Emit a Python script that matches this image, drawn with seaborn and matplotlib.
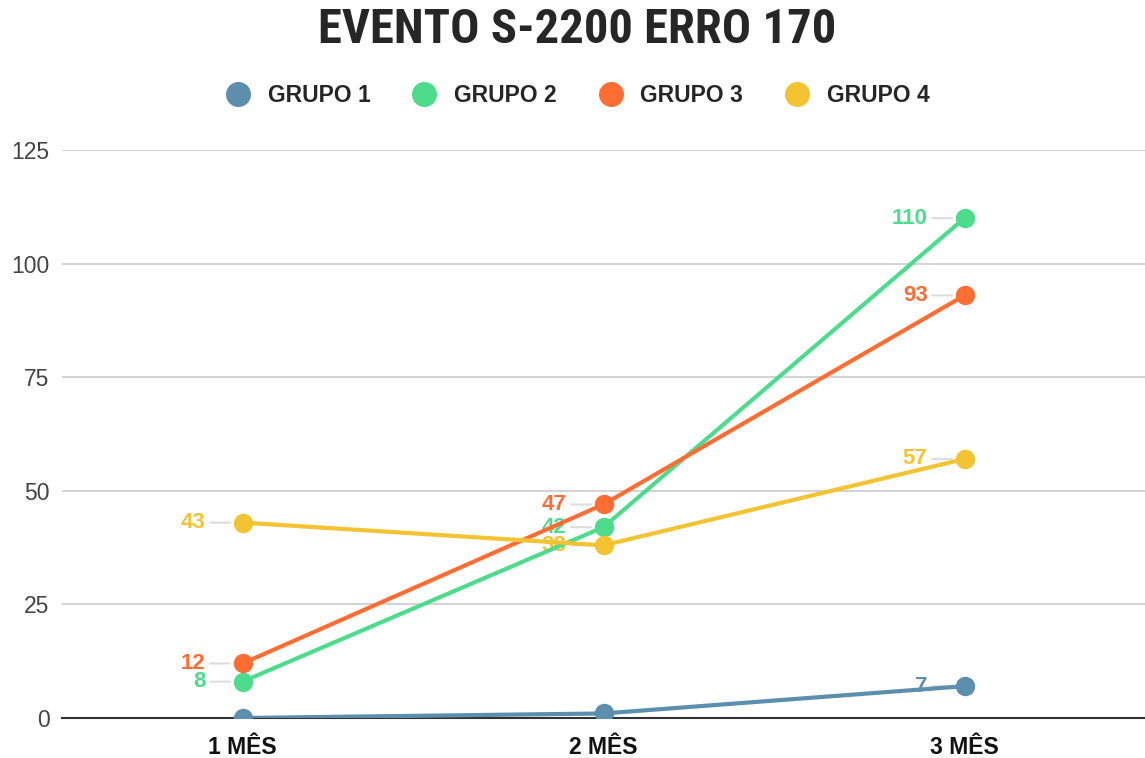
import pandas as pd
import matplotlib.pyplot as plt
import seaborn as sns
from matplotlib.lines import Line2D

# chart values
meses = ['1 MÊS', '2 MÊS', '3 MÊS']
grupo1 = [0, 1, 7]
grupo2 = [8, 42, 110]
grupo3 = [12, 47, 93]
grupo4 = [43, 38, 57]
grupos = ['GRUPO 1', 'GRUPO 2', 'GRUPO 3', 'GRUPO 4']
cores = ['#5b8fad', '#4ddc8c', '#ff6d33', '#f3c332']

# long format table for seaborn
rows = []
for g, vals in zip(grupos, [grupo1, grupo2, grupo3, grupo4]):
    for i, v in enumerate(vals):
        rows.append({'mes': i, 'valor': v, 'grupo': g})
df = pd.DataFrame(rows)

sns.set_style('white')
plt.rcParams['font.family'] = ['Liberation Sans', 'DejaVu Sans']
narrow = ['Liberation Sans Narrow', 'Roboto Condensed', 'Liberation Sans']

fig = plt.figure(figsize=(11.45, 7.58), dpi=100)
ax = fig.add_axes([62 / 1145, 1 - 718 / 758, 1 - 62 / 1145, (718 - 150) / 758])

sns.lineplot(data=df, x='mes', y='valor', hue='grupo', palette=cores,
             marker='o', markersize=14, markeredgewidth=0, linewidth=3,
             legend=False, ax=ax, zorder=3)

# data labels with small leader lines
for g, vals, c in zip(grupos, [grupo1, grupo2, grupo3, grupo4], cores):
    for i, v in enumerate(vals):
        if g == 'GRUPO 1' and v < 5:
            continue
        ax.annotate(str(v), xy=(i, v), xytext=(-37, 0), textcoords='offset pixels',
                    ha='right', va='center', color=c, fontsize=16, fontweight='bold',
                    arrowprops=dict(arrowstyle='-', color='#dddddd', lw=1.5,
                                    shrinkA=1, shrinkB=9), zorder=2)

ax.set_xlim(-0.5, 2.5)
ax.set_ylim(0, 125)
ax.set_yticks([0, 25, 50, 75, 100, 125])
ax.set_xticks(range(3))
ax.set_xticklabels(meses, fontweight='bold', fontsize=16.5, color='#111111')
ax.tick_params(axis='y', labelsize=16.5, labelcolor='#444444', length=0, pad=9)
ax.tick_params(axis='x', length=0, pad=13)
ax.grid(axis='y', color='#cccccc', linewidth=1.2)
ax.set_axisbelow(True)
for s in ['left', 'right', 'top']:
    ax.spines[s].set_visible(False)
ax.spines['bottom'].set_color('#333333')
ax.spines['bottom'].set_linewidth(1.5)
ax.set_xlabel('')
ax.set_ylabel('')

handles = [Line2D([], [], marker='o', linestyle='none', markersize=18,
                  markerfacecolor=c, markeredgewidth=0) for c in cores]
fig.legend(handles, grupos, loc='center', bbox_to_anchor=(578 / 1145, 1 - 96 / 758),
           ncol=4, frameon=False, prop={'weight': 'bold', 'size': 16.5},
           handlelength=1.0, handletextpad=0.8, columnspacing=1.85)

fig.suptitle('EVENTO S-2200 ERRO 170', x=577 / 1145, y=1 - 30 / 758, va='center',
             fontsize=35, fontweight='bold', family=narrow)

fig.savefig('out.png', dpi=100)
